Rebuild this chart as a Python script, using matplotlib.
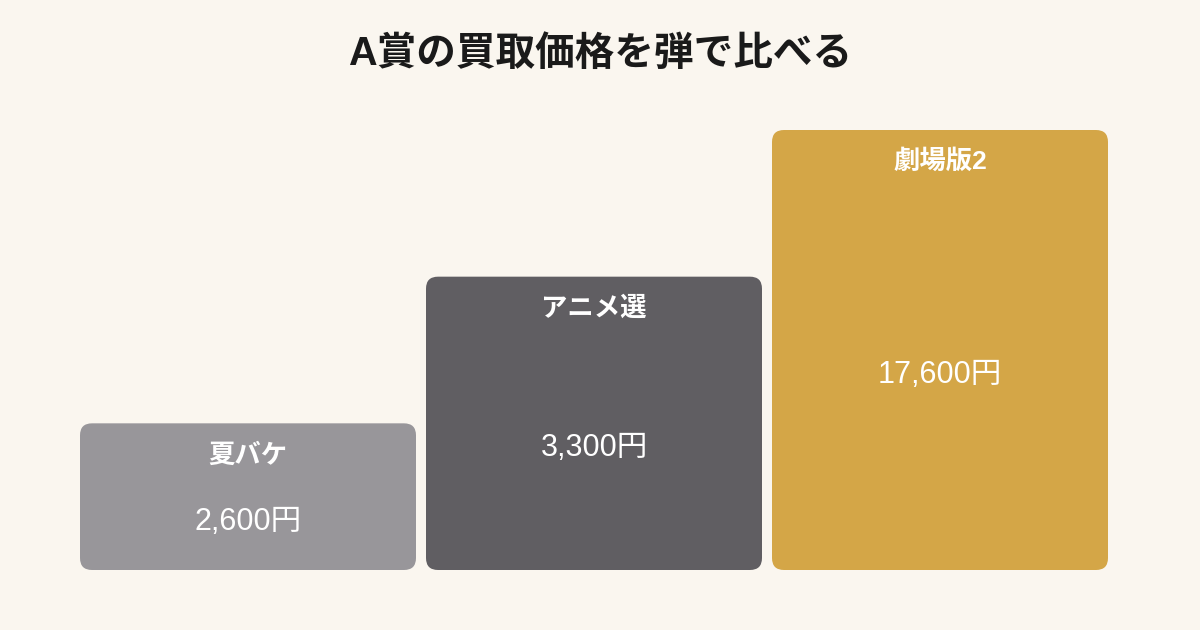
import matplotlib
matplotlib.use('Agg')
import matplotlib.pyplot as plt
from matplotlib.patches import FancyBboxPatch

FONTS = ['Liberation Sans', 'Noto Sans CJK JP', 'DejaVu Sans']
plt.rcParams['font.family'] = FONTS

# DATA
TITLE = "A賞の買取価格を弾で比べる"
labels = ["夏バケ", "アニメ選", "劇場版2"]
prices = [2600, 3300, 17600]
steps = [1, 2, 3]  # stair height of each block (not to scale)
colors = ["#98969a", "#605e62", "#d4a647"]
BG = "#faf6ef"

fig = plt.figure(figsize=(12, 6.3), dpi=100, facecolor=BG)
ax = fig.add_axes([80 / 1200, 60 / 630, 1028 / 1200, 440 / 630])
ax.set_facecolor(BG)

width = 336 / 346
ax.set_xlim(-width / 2, len(labels) - 1 + width / 2)
ax.set_ylim(0, max(steps))
ax.axis('off')

# px per data unit, to keep round corners circular
px_x = 1028 / (ax.get_xlim()[1] - ax.get_xlim()[0])
px_y = 440 / (ax.get_ylim()[1] - ax.get_ylim()[0])
radius = 12 / px_x

for i, (lab, price, h, c) in enumerate(zip(labels, prices, steps, colors)):
    box = FancyBboxPatch((i - width / 2, 0), width, h,
                         boxstyle=f"round,pad=0,rounding_size={radius}",
                         mutation_aspect=px_x / px_y,
                         facecolor=c, edgecolor='none')
    ax.add_patch(box)
    ax.annotate(lab, (i, h), xytext=(0, -23), textcoords='offset points',
                ha='center', va='center', color='white', fontsize=19,
                fontweight='bold')
    ax.annotate(f"{price:,}円", (i, h / 2), xytext=(0, -18), textcoords='offset points',
                ha='center', va='center', color='white', fontsize=22)

fig.text(0.5, 1 - 54 / 630, TITLE, ha='center', va='center',
         fontsize=28.5, fontweight='bold', color='#1a1a1a')

fig.savefig('out.png', dpi=100, facecolor=BG)
